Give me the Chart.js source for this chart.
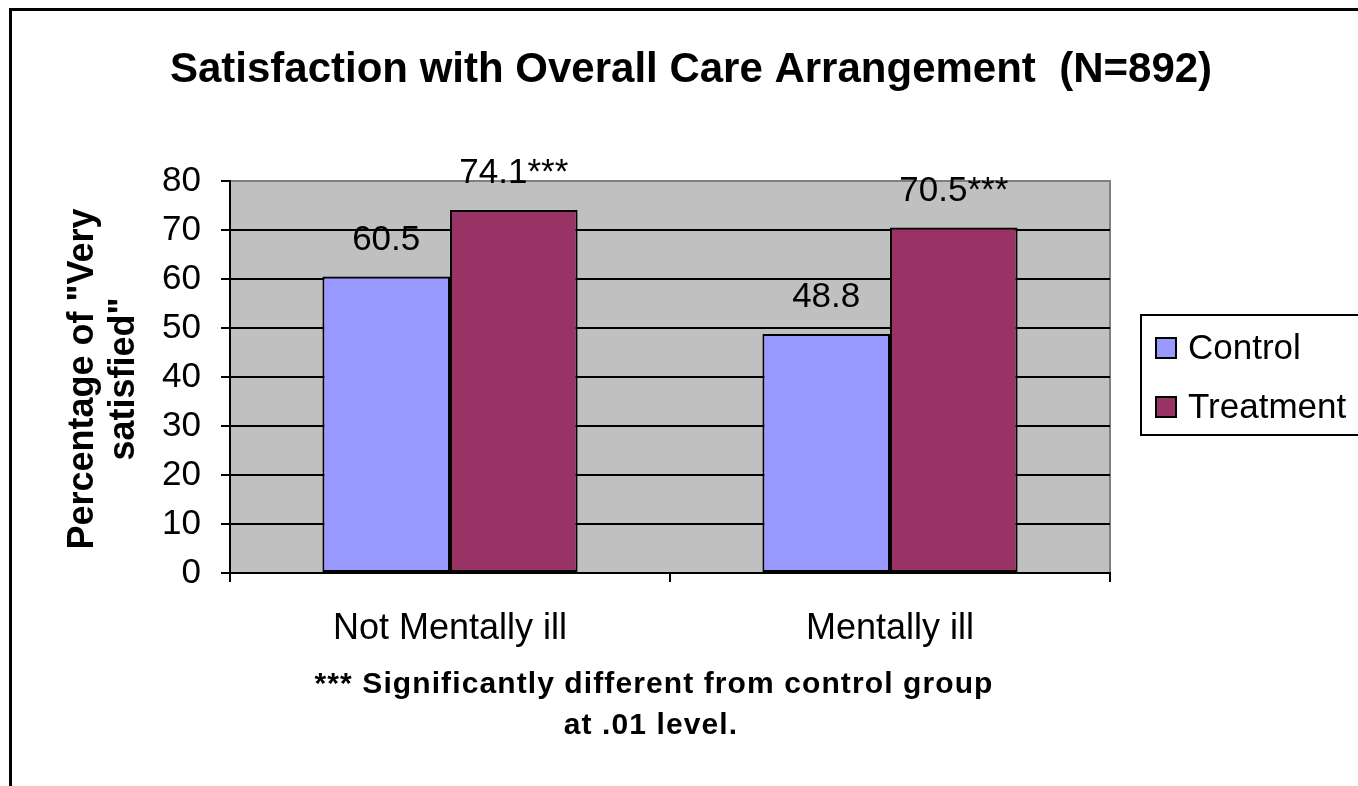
<!DOCTYPE html>
<html><head><meta charset="utf-8">
<script src="https://cdn.jsdelivr.net/npm/chart.js@4"></script>
<style>html,body{margin:0;padding:0;background:#fff;overflow:hidden}canvas{display:block}</style>
</head><body>
<canvas id="c" width="1358" height="786"></canvas>
<script>
const categories = ["Not Mentally ill", "Mentally ill"];
const seriesNames = ["Control", "Treatment"];
const controlValues = [60.5, 48.8];
const treatmentValues = [74.1, 70.5];
const labelSuffixes = ["", "***"];
const yTicks = [0, 10, 20, 30, 40, 50, 60, 70, 80];
const titleText = "Satisfaction with Overall Care Arrangement  (N=892)";
const yTitleLines = ['Percentage of "Very', 'satisfied"'];
const footerLines = ["*** Significantly different from control group", "at .01 level."];
const seriesColors = ["#9999FF", "#993366"];

const SANS = '"Liberation Sans", Arial, sans-serif';

const deco = {
  id: 'deco',
  beforeDraw(chart) {
    const {ctx, chartArea: a} = chart;
    ctx.save();
    ctx.fillStyle = '#fff';
    ctx.fillRect(0, 0, chart.width, chart.height);
    ctx.fillStyle = '#C0C0C0';
    ctx.fillRect(a.left, a.top, a.right - a.left, a.bottom - a.top);
    ctx.strokeStyle = '#808080';
    ctx.lineWidth = 2;
    ctx.beginPath();
    ctx.moveTo(a.left, a.top);
    ctx.lineTo(a.right, a.top);
    ctx.lineTo(a.right, a.bottom);
    ctx.stroke();
    ctx.restore();
  },
  afterDatasetsDraw(chart) {
    const ctx = chart.ctx;
    ctx.save();
    ctx.fillStyle = '#000';
    ctx.font = '35px ' + SANS;
    ctx.textAlign = 'center';
    ctx.textBaseline = 'alphabetic';
    chart.data.datasets.forEach((ds, i) => {
      chart.getDatasetMeta(i).data.forEach((bar, j) => {
        ctx.fillText(ds.data[j].toFixed(1) + labelSuffixes[i], bar.x, bar.y - 27);
      });
    });
    ctx.restore();
  },
  afterDraw(chart) {
    const {ctx, chartArea: a} = chart;
    ctx.save();
    ctx.fillStyle = '#000';
    // title
    ctx.font = 'bold 42px ' + SANS;
    ctx.textAlign = 'center';
    ctx.textBaseline = 'alphabetic';
    ctx.fillText(titleText, 691, 82);
    // y title
    ctx.save();
    const cy = (a.top + a.bottom) / 2 + 2;
    ctx.translate(0, cy);
    ctx.rotate(-Math.PI / 2);
    ctx.font = 'bold 36px ' + SANS;
    ctx.textBaseline = 'middle';
    ctx.fillText(yTitleLines[0], 0, 83);
    ctx.fillText(yTitleLines[1], 0, 124);
    ctx.restore();
    // footer
    ctx.save();
    ctx.font = 'bold 30px ' + SANS;
    ctx.letterSpacing = '1.1px';
    ctx.textBaseline = 'alphabetic';
    ctx.fillText(footerLines[0], 654, 693);
    ctx.fillText(footerLines[1], 651, 734);
    ctx.restore();
    // legend
    ctx.strokeStyle = '#000';
    ctx.lineWidth = 2;
    ctx.strokeRect(1141, 315, 300, 120);
    ctx.font = '35px ' + SANS;
    ctx.textAlign = 'left';
    ctx.textBaseline = 'middle';
    const ly = [348, 407];
    seriesNames.forEach((n, i) => {
      ctx.fillStyle = seriesColors[i];
      ctx.fillRect(1156, ly[i] - 10, 20, 20);
      ctx.strokeRect(1156, ly[i] - 10, 20, 20);
      ctx.fillStyle = '#000';
      ctx.fillText(n, 1188, ly[i] + 1);
    });
    // outer border
    ctx.lineWidth = 3;
    ctx.strokeRect(10.5, 9.5, 1400, 820);
    ctx.restore();
  }
};

new Chart(document.getElementById('c'), {
  type: 'bar',
  data: {
    labels: categories,
    datasets: [
      { label: seriesNames[0], data: controlValues, backgroundColor: seriesColors[0] },
      { label: seriesNames[1], data: treatmentValues, backgroundColor: seriesColors[1] }
    ].map(d => Object.assign(d, {
      borderColor: '#000', borderWidth: 2, borderSkipped: false,
      categoryPercentage: 0.58, barPercentage: 1.0
    }))
  },
  options: {
    responsive: false,
    devicePixelRatio: 1,
    animation: false,
    layout: { padding: { top: 181, right: 248, bottom: 0, left: 0 } },
    plugins: { legend: { display: false }, title: { display: false }, tooltip: { enabled: false } },
    scales: {
      x: {
        offset: true,
        grid: { display: true, drawOnChartArea: false, color: '#000', lineWidth: 2, tickLength: 9, offset: true },
        border: { display: true, color: '#000', width: 2 },
        ticks: { color: '#000', font: { family: SANS, size: 36 }, padding: 25 },
        afterFit(s) { s.height = 213; }
      },
      y: {
        min: 0, max: 80,
        afterBuildTicks(s) { s.ticks = yTicks.map(v => ({ value: v })); },
        grid: {
          color: ctx => ctx.tick && ctx.tick.value === 80 ? '#808080' : '#000',
          tickColor: '#000', lineWidth: 2, tickLength: 9
        },
        border: { display: true, color: '#000', width: 2 },
        ticks: { color: '#000', font: { family: SANS, size: 35 }, padding: 20 },
        afterFit(s) { s.width = 230; }
      }
    }
  },
  plugins: [deco]
});
</script>
</body></html>
